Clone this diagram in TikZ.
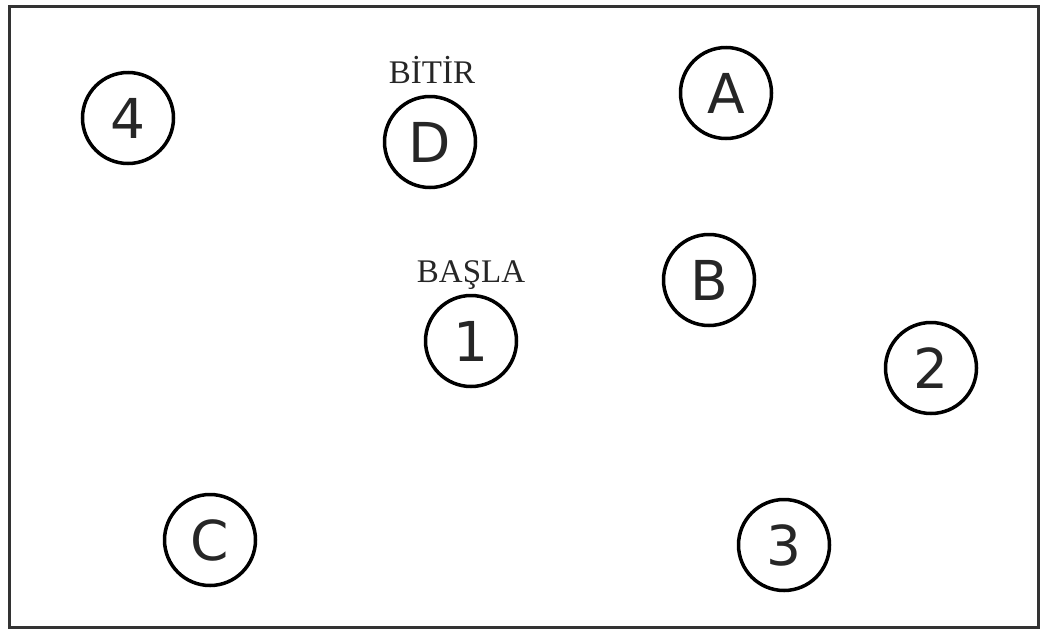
\documentclass[tikz,border=0pt]{standalone}
\usepackage{fontspec}
\setmainfont{Liberation Serif}
\newfontfamily\circfont{DejaVu Sans}
\tikzset{
  spot/.style={circle, draw, line width=3.5pt, minimum size=91pt, inner sep=0pt, font=\circfont\fontsize{55}{60}\selectfont, text=black!85},
  tag/.style={anchor=base, inner sep=0pt, font=\fontsize{33}{36}\selectfont, text=black!85}
}
\begin{document}
\begin{tikzpicture}[x=1pt,y=-1pt]
\useasboundingbox (0,0) rectangle (1043,632);
\draw[line width=3pt, black!80] (9,6) rectangle (1038,627);
\node[spot] (n4) at (128,118) {4};
\node[spot] (nD) at (430,142) {D};
\node[spot] (nA) at (726,93) {A};
\node[spot] (nB) at (709,280) {B};
\node[spot] (n1) at (471,341) {1};
\node[spot] (n2) at (931,368) {2};
\node[spot] (nC) at (210,540) {C};
\node[spot] (n3) at (784,545) {3};
\node[tag] (bitir) at (432,83) {BİTİR};
\node[tag] (basla) at (471,282) {BAŞLA};
\end{tikzpicture}
\end{document}
